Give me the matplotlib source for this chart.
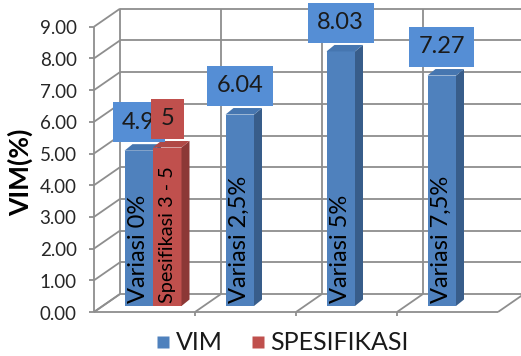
import numpy as np
import matplotlib
matplotlib.use("Agg")
import matplotlib.pyplot as plt
from matplotlib.patches import Polygon
from matplotlib.lines import Line2D

plt.rcParams['font.family'] = ['Lato', 'DejaVu Sans']

# ---------------- data ----------------
categories = ["Variasi 0%", "Variasi 2,5%", "Variasi 5%", "Variasi 7,5%"]
vim = [4.9, 6.04, 8.03, 7.27]
vim_labels = ["4.9", "6.04", "8.03", "7.27"]
spes = [5, np.nan, np.nan, np.nan]
spes_labels = ["5", "", "", ""]
spes_bar_text = "Spesifikasi 3 - 5"
yticks = [0, 1, 2, 3, 4, 5, 6, 7, 8, 9]
series_names = ["VIM", "SPESIFIKASI"]
ylabel = "VIM(%)"

# ---------------- style / layout ----------------
W, H, DPI = 521, 356, 100
PXX, PXY = 101.0, 31.7      # pixels per category / per value unit
X0, Y0 = 153.0, 306.0       # pixel of category 0 centre / value 0 (bar plane)
BLUE, BLUE_SIDE, BLUE_TOP = "#4F81BD", "#385D8A", "#4676B0"
RED, RED_SIDE, RED_TOP = "#C0504D", "#8C3836", "#B04946"
BLUE_LBL = "#558ED5"
GRID = "#8E8E8E"
LW = 1.3

# depth offsets (data units)
fx, fy = -8.5 / PXX, -6.0 / PXY      # front edge
bx, by = 17.5 / PXX, 12.0 / PXY      # back wall
ddx, ddy = 8.0 / PXX, 6.5 / PXY      # bar depth
bw = 28.5 / PXX                      # bar width

fig = plt.figure(figsize=(W / DPI, H / DPI), dpi=DPI)
ax = fig.add_axes([0, 0, 1, 1])
ax.set_xlim(-X0 / PXX, (W - X0) / PXX)
ax.set_ylim((Y0 - H) / PXY, Y0 / PXY)
ax.axis("off")

n = len(categories)
bounds = np.arange(n + 1) - 0.5
ymax = yticks[-1]

def seg(x0, y0, x1, y1, **kw):
    ax.plot([x0, x1], [y0, y1], color=GRID, lw=LW, solid_capstyle="butt", zorder=1, **kw)

# back wall
for v in yticks:
    seg(bounds[0] + bx, v + by, bounds[-1] + bx, v + by)
for b in bounds:
    seg(b + bx, by, b + bx, ymax + by)
# left side wall
for v in yticks:
    seg(bounds[0] + fx, v + fy, bounds[0] + bx, v + by)
seg(bounds[0] + fx, fy, bounds[0] + fx, ymax + fy)
# floor
for b in bounds:
    seg(b + fx, fy, b + bx, by)
seg(bounds[0] + fx, fy, bounds[-1] + fx, fy)
# tick marks
tick_len_x = 5.0 / PXX
for v in yticks:
    seg(bounds[0] + fx - tick_len_x, v + fy, bounds[0] + fx, v + fy)
for b in bounds[1:-1]:
    seg(b + fx, fy, b + fx, fy - 4.0 / PXY)

# tick labels
for v in yticks:
    ax.annotate(f"{v:.2f}", xy=(bounds[0] + fx, v + fy), xytext=(-12.5, -1.5),
                textcoords="offset points", ha="right", va="center",
                fontsize=13.5, color="#262626")

x = np.arange(n)

def draw_bars(xs, vals, front, side, top):
    bars = ax.bar(xs, vals, width=bw, align="center", color=front, edgecolor="none", zorder=3)
    for r, v in zip(bars, vals):
        if np.isnan(v):
            continue
        xl, xr = r.get_x(), r.get_x() + r.get_width()
        ax.add_patch(Polygon([(xr, 0), (xr + ddx, ddy), (xr + ddx, v + ddy), (xr, v)],
                             closed=True, facecolor=side, edgecolor="none", zorder=3))
        ax.add_patch(Polygon([(xl, v), (xr, v), (xr + ddx, v + ddy), (xl + ddx, v + ddy)],
                             closed=True, facecolor=top, edgecolor="none", zorder=3))
    return bars

xb = x - bw / 2
xr_ = x + bw / 2
draw_bars(xb, vim, BLUE, BLUE_SIDE, BLUE_TOP)
draw_bars(xr_, spes, RED, RED_SIDE, RED_TOP)

# in-bar texts
for xi, c in zip(xb, categories):
    ax.annotate(c, xy=(xi, 0), xytext=(0, 2.5), textcoords="offset points",
                rotation=90, ha="center", va="bottom", fontsize=17, color="black", zorder=5)
for xi, v in zip(xr_, spes):
    if not np.isnan(v):
        ax.annotate(spes_bar_text, xy=(xi, 0), xytext=(0, 2.5), textcoords="offset points",
                    rotation=90, ha="center", va="bottom", fontsize=14.3, color="black", zorder=5)

# data labels
for xi, v, s in zip(xb, vim, vim_labels):
    ax.annotate(s, xy=(xi, v), xytext=(0, 13), textcoords="offset points",
                ha="center", va="bottom", fontsize=17, color="#1a1a1a", zorder=6,
                bbox=dict(boxstyle="square,pad=0.4", facecolor=BLUE_LBL, edgecolor="none"))
for xi, v, s in zip(xr_, spes, spes_labels):
    if not np.isnan(v):
        ax.annotate(s, xy=(xi, v), xytext=(0, 13), textcoords="offset points",
                    ha="center", va="bottom", fontsize=17, color="#1a1a1a", zorder=7,
                    bbox=dict(boxstyle="square,pad=0.4", facecolor=RED, edgecolor="none"))

# y label
fig.text(20 / W, 1 - 172 / H, ylabel, rotation=90, ha="center", va="center",
         fontsize=19, fontweight="bold", color="black")

# legend
handles = [Line2D([], [], marker="s", linestyle="none", markersize=9,
                  markerfacecolor=BLUE, markeredgecolor="none"),
           Line2D([], [], marker="s", linestyle="none", markersize=9,
                  markerfacecolor=RED, markeredgecolor="none")]
fig.legend(handles, series_names, loc="center", bbox_to_anchor=(281 / W, 1 - 343 / H),
           ncol=2, frameon=False, fontsize=18, handletextpad=0.1, columnspacing=1.0,
           handlelength=0.8, borderaxespad=0, borderpad=0, labelcolor="#1a1a1a")

fig.savefig("out.png", dpi=DPI)
